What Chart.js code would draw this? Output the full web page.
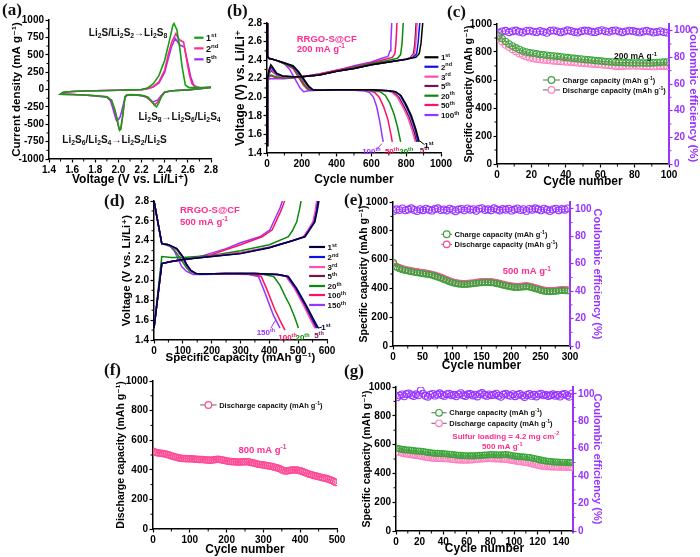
<!DOCTYPE html>
<html>
<head>
<meta charset="utf-8">
<title>RRGO-S@CF electrochemical performance</title>
<script src="https://cdn.jsdelivr.net/npm/chart.js@4.4.1/dist/chart.umd.min.js"></script>
<style>
  body { margin: 0; background: #fff; }
  #page { position: relative; width: 700px; height: 557px; overflow: hidden; background: #fff; }
  canvas { position: absolute; }
  .tag { position: absolute; font: bold 17px "Liberation Serif", "DejaVu Serif", serif; color: #111; }
</style>
</head>
<body>
<div id="page">
  <canvas id="ca"></canvas>
  <canvas id="cb"></canvas>
  <canvas id="cc"></canvas>
  <canvas id="cd"></canvas>
  <canvas id="ce"></canvas>
  <canvas id="cf"></canvas>
  <canvas id="cg"></canvas>
  <div class="tag" style="left:2px;top:0px">(a)</div>
  <div class="tag" style="left:227px;top:1px">(b)</div>
  <div class="tag" style="left:447px;top:2px">(c)</div>
  <div class="tag" style="left:104px;top:191px">(d)</div>
  <div class="tag" style="left:344px;top:190px">(e)</div>
  <div class="tag" style="left:104px;top:360px">(f)</div>
  <div class="tag" style="left:344px;top:361px">(g)</div>
</div>
<script>
const FONT = '"Liberation Sans", Arial, "DejaVu Sans", sans-serif';

// (a) cyclic voltammetry: voltage (V) and current density (mA/g), one loop per cycle
const cv1Volt = [2.80,2.70,2.60,2.50,2.45,2.40,2.37,2.35,2.33,2.31,2.28,2.25,2.20,2.15,2.10,2.07,2.056,2.036,2.02,2.01,2.00,1.985,1.97,1.94,1.90,1.80,1.70,1.60,1.50,
                 1.52,1.55,1.60,1.70,1.80,1.90,2.00,2.10,2.20,2.25,2.30,2.35,2.40,2.44,2.47,2.48,2.505,2.53,2.55,2.578,2.606,2.70,2.80];
const cv1Cur  = [30,10,-5,-15,-22,-40,-110,-190,-250,-225,-150,-105,-85,-78,-75,-80,-110,-390,-570,-585,-520,-400,-300,-155,-105,-90,-80,-72,-67,
                 -45,-35,-28,-22,-18,-14,-10,-6,0,20,80,200,420,700,920,950,860,600,330,65,30,25,30];
const cv2Volt = [2.80,2.70,2.60,2.50,2.45,2.40,2.37,2.34,2.317,2.29,2.26,2.22,2.15,2.10,2.07,2.056,2.036,2.02,2.01,2.00,1.985,1.97,1.94,1.90,1.80,1.70,1.60,1.50,
                 1.52,1.55,1.60,1.70,1.80,1.90,2.00,2.10,2.20,2.25,2.30,2.35,2.40,2.43,2.46,2.497,2.515,2.534,2.563,2.59,2.615,2.635,2.66,2.70,2.80];
const cv2Cur  = [30,10,-5,-15,-22,-38,-95,-180,-215,-185,-125,-92,-78,-74,-80,-110,-390,-570,-585,-530,-410,-300,-155,-105,-90,-80,-72,-67,
                 -45,-35,-28,-22,-18,-14,-10,-6,-2,12,40,110,280,500,680,805,740,708,684,420,200,86,40,25,30];
const cv5Volt = [2.80,2.70,2.60,2.50,2.45,2.40,2.37,2.34,2.30,2.27,2.24,2.20,2.15,2.10,2.075,2.06,2.045,2.03,2.015,2.00,1.985,1.97,1.95,1.93,1.90,1.80,1.70,1.60,1.50,
                 1.52,1.55,1.60,1.70,1.80,1.90,2.00,2.10,2.20,2.25,2.30,2.35,2.40,2.43,2.46,2.49,2.51,2.53,2.57,2.60,2.625,2.65,2.68,2.72,2.80];
const cv5Cur  = [30,10,-5,-15,-22,-36,-85,-150,-178,-150,-110,-90,-80,-75,-82,-110,-200,-300,-390,-435,-450,-380,-260,-160,-110,-92,-80,-72,-67,
                 -45,-35,-28,-22,-18,-14,-10,-6,-2,10,35,95,250,440,620,735,690,640,612,375,180,65,35,25,30];

// (b) charge/discharge profiles at 200 mA/g: [capacity, voltage]
const b1Dis = [[0,2.8],[3,2.44],[10,2.42],[50,2.40],[100,2.37],[150,2.34],[180,2.28],[210,2.20],[240,2.12],[265,2.08],[300,2.075],[400,2.08],[500,2.08],[600,2.08],[700,2.07],[740,2.06],[770,2.02],[800,1.92],[830,1.80],[855,1.66],[875,1.52]];
const b2Dis = [[0,2.8],[3,2.44],[10,2.42],[50,2.40],[100,2.37],[150,2.33],[180,2.27],[210,2.19],[240,2.11],[260,2.08],[300,2.075],[400,2.08],[500,2.08],[600,2.08],[700,2.07],[735,2.06],[765,2.02],[795,1.92],[825,1.80],[850,1.66],[868,1.52]];
const b3Dis = [[0,2.8],[3,2.44],[10,2.42],[50,2.40],[100,2.37],[150,2.33],[180,2.26],[210,2.18],[240,2.10],[258,2.08],[300,2.075],[400,2.08],[500,2.08],[600,2.075],[690,2.07],[720,2.05],[750,2.0],[780,1.90],[810,1.78],[835,1.64],[852,1.52]];
const b5Dis = [[0,2.8],[3,2.44],[10,2.42],[50,2.40],[100,2.37],[150,2.33],[180,2.26],[210,2.18],[240,2.10],[258,2.08],[300,2.075],[400,2.08],[500,2.08],[600,2.075],[700,2.07],[728,2.05],[758,2.0],[788,1.90],[818,1.78],[843,1.64],[860,1.52]];
const b20Dis = [[0,2.8],[3,2.44],[10,2.42],[50,2.40],[100,2.36],[150,2.32],[180,2.24],[210,2.15],[235,2.09],[250,2.075],[300,2.075],[400,2.08],[500,2.08],[600,2.07],[650,2.06],[680,2.02],[705,1.94],[730,1.82],[750,1.68],[768,1.52]];
const b50Dis = [[0,2.8],[3,2.44],[10,2.42],[50,2.40],[100,2.36],[150,2.31],[180,2.22],[210,2.13],[230,2.09],[245,2.075],[300,2.075],[400,2.08],[500,2.075],[590,2.07],[620,2.05],[645,2.0],[670,1.90],[695,1.76],[712,1.60],[720,1.52]];
const b100Dis = [[0,2.8],[3,2.44],[10,2.42],[50,2.40],[100,2.36],[130,2.30],[160,2.20],[190,2.10],[210,2.06],[240,2.07],[300,2.075],[400,2.08],[500,2.075],[560,2.07],[590,2.05],[612,2.0],[630,1.90],[648,1.74],[662,1.58],[668,1.52]];
const b1Chg = [[0,1.48],[3,2.2],[12,2.30],[22,2.35],[35,2.32],[55,2.26],[90,2.23],[150,2.22],[200,2.22],[300,2.24],[400,2.28],[500,2.31],[600,2.35],[700,2.38],[800,2.41],[855,2.43],[875,2.47],[885,2.58],[895,2.8]];
const b2Chg = [[0,1.48],[3,2.2],[12,2.28],[22,2.33],[35,2.30],[55,2.25],[90,2.23],[150,2.22],[200,2.22],[300,2.24],[400,2.28],[500,2.31],[600,2.35],[700,2.38],[800,2.41],[840,2.43],[860,2.47],[868,2.58],[878,2.8]];
const b3Chg = [[0,1.48],[3,2.2],[12,2.26],[22,2.31],[35,2.28],[55,2.24],[90,2.22],[150,2.22],[200,2.22],[300,2.24],[400,2.28],[500,2.31],[600,2.35],[700,2.38],[800,2.41],[830,2.43],[848,2.47],[855,2.58],[863,2.8]];
const b5Chg = [[0,1.48],[3,2.2],[12,2.25],[22,2.29],[35,2.27],[55,2.24],[90,2.22],[150,2.22],[200,2.22],[300,2.24],[400,2.28],[500,2.31],[600,2.35],[700,2.38],[800,2.41],[825,2.43],[842,2.47],[850,2.58],[857,2.8]];
const b20Chg = [[0,1.48],[3,2.2],[12,2.23],[25,2.24],[50,2.22],[90,2.21],[150,2.21],[200,2.22],[300,2.24],[400,2.28],[500,2.32],[600,2.36],[700,2.40],[750,2.42],[768,2.46],[776,2.58],[783,2.8]];
const b50Chg = [[0,1.48],[3,2.2],[12,2.22],[25,2.23],[50,2.21],[90,2.21],[150,2.21],[200,2.22],[300,2.25],[400,2.29],[500,2.33],[600,2.37],[680,2.41],[720,2.43],[735,2.47],[741,2.58],[747,2.8]];
const b100Chg = [[0,1.48],[3,2.18],[15,2.20],[50,2.20],[100,2.20],[150,2.21],[200,2.22],[300,2.25],[400,2.29],[500,2.34],[600,2.38],[660,2.42],[695,2.44],[707,2.5],[712,2.6],[717,2.8]];

// (d) charge/discharge profiles at 500 mA/g: [capacity, voltage]
const d1Dis = [[0,2.8],[27,2.37],[50,2.36],[79,2.32],[100,2.24],[113,2.16],[128,2.10],[145,2.07],[165,2.065],[250,2.07],[350,2.07],[430,2.06],[466,2.04],[495,1.92],[530,1.74],[555,1.60],[570,1.52]];
const d2Dis = [[0,2.8],[27,2.37],[50,2.36],[79,2.32],[100,2.24],[113,2.16],[128,2.10],[145,2.07],[165,2.065],[250,2.07],[350,2.07],[430,2.06],[463,2.04],[492,1.92],[527,1.74],[551,1.60],[566,1.52]];
const d3Dis = [[0,2.8],[27,2.37],[50,2.36],[79,2.31],[100,2.23],[113,2.15],[128,2.09],[145,2.07],[165,2.065],[250,2.07],[350,2.07],[425,2.06],[458,2.04],[487,1.92],[520,1.74],[544,1.60],[558,1.52]];
const d5Dis = [[0,2.8],[27,2.37],[50,2.36],[80,2.31],[101,2.23],[114,2.15],[129,2.09],[146,2.07],[165,2.065],[250,2.07],[350,2.07],[427,2.06],[460,2.04],[489,1.92],[523,1.74],[547,1.60],[561,1.52]];
const d20Dis = [[0,2.8],[27,2.37],[61,2.34],[80,2.27],[96,2.20],[112,2.13],[125,2.09],[148,2.07],[200,2.065],[300,2.07],[380,2.06],[415,2.04],[437,1.95],[455,1.84],[471,1.75],[488,1.63],[501,1.52]];
const d100Dis = [[0,2.8],[27,2.37],[50,2.36],[79,2.31],[100,2.22],[113,2.14],[128,2.09],[145,2.07],[165,2.065],[250,2.07],[340,2.06],[372,2.04],[390,1.92],[420,1.70],[440,1.58],[454,1.50]];
const d150Dis = [[0,2.8],[27,2.37],[50,2.36],[70,2.30],[96,2.14],[113,2.09],[136,2.06],[170,2.06],[250,2.065],[330,2.06],[362,2.04],[379,1.92],[414,1.65],[437,1.52]];
const d1Chg = [[0,1.52],[27,2.17],[60,2.19],[100,2.21],[200,2.24],[300,2.27],[400,2.33],[480,2.40],[524,2.44],[540,2.51],[558,2.59],[566,2.7],[572,2.8]];
const d2Chg = [[0,1.52],[27,2.17],[60,2.19],[100,2.21],[200,2.24],[300,2.27],[400,2.33],[480,2.40],[522,2.44],[538,2.51],[556,2.59],[564,2.7],[569,2.8]];
const d3Chg = [[0,1.52],[27,2.17],[60,2.19],[100,2.21],[200,2.245],[300,2.28],[400,2.335],[480,2.40],[518,2.44],[534,2.51],[551,2.59],[559,2.7],[564,2.8]];
const d5Chg = [[0,1.52],[27,2.17],[60,2.19],[100,2.21],[200,2.245],[300,2.28],[400,2.335],[480,2.40],[520,2.44],[536,2.51],[553,2.59],[561,2.7],[566,2.8]];
const d20Chg = [[0,1.52],[27,2.24],[60,2.23],[100,2.23],[200,2.25],[300,2.30],[400,2.36],[466,2.44],[480,2.50],[495,2.59],[505,2.72],[510,2.8]];
const d100Chg = [[0,1.52],[27,2.17],[60,2.19],[100,2.21],[200,2.26],[300,2.36],[375,2.44],[410,2.51],[440,2.70],[453,2.8]];
const d150Chg = [[0,1.52],[27,2.17],[60,2.19],[100,2.20],[170,2.25],[250,2.32],[300,2.38],[367,2.44],[402,2.51],[437,2.73],[445,2.8]];

// (c) cycling at 200 mA/g, every 2nd cycle from cycle 1
const cCharge = [915,895,875,858,843,830,818,808,800,795,791,787,783,780,777,774,772,769,766,763,760,757,755,752,750,747,745,742,740,737,735,733,731,729,727,726,725,724,723,722,722,723,722,721,722,724,725,727,728,728];
const cDischarge = [900,875,852,835,820,805,790,778,768,760,755,750,747,744,742,740,738,736,734,732,730,728,726,724,722,720,718,716,714,712,710,708,706,703,700,699,700,701,702,703,702,701,700,699,698,697,698,699,700,700];
const cCE = [98.5,99.4,99.9,98.8,99.6,100.1,99.2,98.6,99.8,100.0,99.3,98.9,99.7,99.1,98.4,99.9,100.2,99.5,98.8,99.4,100.3,99.8,99.0,98.6,99.6,100.1,99.9,99.2,98.9,99.7,100.4,99.6,99.1,99.9,100.2,99.4,98.8,99.5,100.0,99.7,99.2,98.7,99.4,99.9,99.3,98.6,99.0,99.6,98.9,98.5];

// (e) cycling at 500 mA/g, every 5th cycle from cycle 1
const eCharge = [580,548,537,530,524,520,516,512,509,505,502,499,496,491,485,478,471,462,454,446,439,434,430,428,427,428,430,432,435,438,440,441,441,440,437,433,428,423,418,414,410,407,406,408,410,412,409,404,398,392,386,381,378,377,378,380,383,385,384,383];
const eDischarge = [570,552,543,536,530,526,522,518,515,511,508,505,502,497,491,484,477,468,460,452,445,440,436,434,433,434,436,438,441,444,446,447,447,446,443,439,434,429,424,420,416,413,412,414,416,418,415,410,404,398,392,387,384,383,384,386,389,391,390,389];
const eCE = [98.5,99.7,99.1,100.3,98.9,99.5,100.4,99.2,98.4,99.8,99.0,100.1,99.4,98.7,99.9,100.4,99.1,99.6,98.8,100.2,99.3,98.3,99.5,100.0,98.9,100.3,99.4,99.8,98.6,100.1,100.5,99.2,99.7,99.0,100.4,99.6,98.8,99.9,99.3,100.2,98.7,99.5,100.3,99.1,99.8,98.5,100.0,99.4,100.4,99.7,98.9,100.1,99.3,98.4,99.6,100.2,99.0,99.9,99.4,100.3];

// (f) discharge capacity at 800 mA/g, every 5th cycle from cycle 1
const fDischarge = [525,518,515,513,512,510,508,505,502,498,494,490,486,483,480,478,477,476,475,475,474,474,473,472,471,470,469,469,468,467,466,465,466,468,470,471,470,468,465,462,460,458,456,455,454,453,452,452,453,454,455,455,453,450,447,444,441,438,436,434,432,430,428,426,424,421,418,414,410,405,399,394,392,393,396,398,399,399,398,396,393,389,384,379,374,370,366,362,359,356,353,350,347,344,341,337,333,328,322,315];

// (g) high loading (4.2 mg/cm2) at 500 mA/g, every 2nd cycle from cycle 1
const gCharge = [575,570,567,565,563,562,560,558,556,555,554,552,549,546,543,541,540,539,538,537,536,535,533,531,529,527,526,525,524,523,523,522,522,523,524,525,526,527,528,530,531,530,529,528,529,530,531,529,526,523,520,518,516,515,514,512,510,507,503,500,496,492,489,486,484,482,480,479,478,477,477,476,476,475,475];
const gDischarge = [555,548,543,540,537,535,532,530,527,525,522,519,516,513,510,508,507,506,506,505,505,504,503,501,499,497,496,495,494,494,495,496,497,499,501,502,503,504,505,506,505,504,503,503,502,501,500,498,495,492,489,486,484,482,480,477,474,470,466,462,458,455,452,450,449,448,447,447,446,446,446,445,445,444,444];
const gCE = [97.5,98.8,99.6,98.2,99.9,100.3,99.1,98.4,99.7,98.9,102.5,100.2,98.6,97.9,99.4,100.0,98.7,99.5,100.4,99.2,98.5,99.8,100.1,98.9,99.3,98.2,99.6,100.5,99.0,98.4,99.7,100.0,98.8,99.4,98.1,99.9,100.6,99.2,98.5,99.6,98.9,99.3,100.1,98.7,97.8,99.5,100.2,99.1,98.6,99.8,98.3,99.4,100.0,98.8,97.7,99.2,99.9,98.5,99.3,98.1,99.6,100.1,98.9,99.4,98.4,99.0,99.7,98.6,99.2,98.0,99.5,100.0,98.8,97.9,100.2];

const cycles = (arr, first, every) => arr.map((_, i) => first + every * i);

const GREEN = '#3aa63a', PINK_L = '#ff80c0', PINK = '#ff4a96', VIOLET = '#9933ff', HOT = '#ff2d8f';
const bCols = { c1: '#000000', c2: '#1010e0', c3: '#ff4fa8', c5: '#7a1048', c20: '#0a8a0a', c50: '#ff1060', c100: '#9933ff' };

// text with ^{sup} and _{sub} parts, y is the vertical middle
function rich(ctx, str, x, y, size, color, align) {
  const segs = [];
  const re = /([\^_])\{([^}]*)\}|([^\^_]+)/g;
  let m;
  while ((m = re.exec(str)) !== null) {
    if (m[3] !== undefined) segs.push({ s: m[3], k: 0 });
    else segs.push({ s: m[2], k: m[1] === '^' ? 1 : -1 });
  }
  const fontOf = k => 'bold ' + (k ? size * 0.68 : size) + 'px ' + FONT;
  let total = 0;
  segs.forEach(g => { ctx.font = fontOf(g.k); g.w = ctx.measureText(g.s).width; total += g.w; });
  let cx = align === 'center' ? x - total / 2 : align === 'right' ? x - total : x;
  ctx.save();
  ctx.fillStyle = color; ctx.textAlign = 'left'; ctx.textBaseline = 'alphabetic';
  const base = y + size * 0.36;
  segs.forEach(g => {
    ctx.font = fontOf(g.k);
    const dy = g.k === 1 ? -size * 0.4 : g.k === -1 ? size * 0.22 : 0;
    ctx.fillText(g.s, cx, base + dy);
    cx += g.w;
  });
  ctx.restore();
}

function minorTicks(ctx, s) {
  if (!s || s.ticks.length < 2) return;
  const t = s.ticks;
  const step = t[1].value - t[0].value;
  ctx.save();
  ctx.strokeStyle = s.options.border.color; ctx.lineWidth = 1;
  ctx.beginPath();
  for (let v = t[0].value - step / 2; v <= s.max + 1e-6; v += step) {
    if (v < s.min - 1e-6) continue;
    const p = s.getPixelForValue(v);
    if (s.isHorizontal()) { ctx.moveTo(p, s.top); ctx.lineTo(p, s.top + 2.5); }
    else if (s.position === 'left') { ctx.moveTo(s.right, p); ctx.lineTo(s.right - 2.5, p); }
    else { ctx.moveTo(s.left, p); ctx.lineTo(s.left + 2.5, p); }
  }
  ctx.stroke();
  ctx.restore();
}

const decoPlugin = {
  id: 'deco',
  afterDraw(chart, args, o) {
    const ctx = chart.ctx, sx = chart.scales.x, sy = chart.scales.y;
    const X = v => sx.getPixelForValue(v), Y = v => sy.getPixelForValue(v);
    (o.minor || []).forEach(id => minorTicks(ctx, chart.scales[id]));
    (o.arrows || []).forEach(a => {
      ctx.save(); ctx.strokeStyle = a.c; ctx.lineWidth = 1;
      ctx.beginPath(); ctx.moveTo(X(a.x1), Y(a.y1)); ctx.lineTo(X(a.x2), Y(a.y2)); ctx.stroke();
      ctx.restore();
    });
    (o.keys || []).forEach(k => {
      const y = Y(k.y), x1 = X(k.x1), x2 = X(k.x2);
      ctx.save();
      if (k.mark) {
        ctx.strokeStyle = '#666'; ctx.lineWidth = 1;
        ctx.beginPath(); ctx.moveTo(x1, y); ctx.lineTo(x2, y); ctx.stroke();
        ctx.strokeStyle = k.c; ctx.lineWidth = 1.2; ctx.fillStyle = '#fff';
        ctx.beginPath(); ctx.arc((x1 + x2) / 2, y, 3.3, 0, Math.PI * 2); ctx.fill(); ctx.stroke();
      } else {
        ctx.strokeStyle = k.c; ctx.lineWidth = 2.2;
        ctx.beginPath(); ctx.moveTo(x1, y); ctx.lineTo(x2, y); ctx.stroke();
      }
      ctx.restore();
      rich(ctx, k.t, x2 + 2.5, y, k.s || 8, k.tc || '#111', 'left');
    });
    (o.texts || []).forEach(t => rich(ctx, t.t, X(t.x), Y(t.y), t.s || 9, t.c || '#111', t.a || 'left'));
  }
};
Chart.register(decoPlugin);

function lin(o) {
  const col = o.color || '#000';
  return {
    type: 'linear', position: o.pos || 'left', min: o.min, max: o.max,
    border: { display: true, color: col, width: o.bw || 1.5 },
    grid: { drawOnChartArea: false, drawTicks: true, tickLength: 3.5, tickColor: col, tickWidth: 1.2 },
    ticks: {
      stepSize: o.step, color: col, padding: 1.5, autoSkip: false, maxRotation: 0, includeBounds: false,
      font: { family: FONT, size: 10, weight: 'bold' },
      callback: o.dec != null ? v => Number(v).toFixed(o.dec) : v => String(v)
    },
    title: { display: !!o.title, text: o.title, color: col, padding: 0, font: { family: FONT, size: o.ts || 12, weight: 'bold' } },
    afterFit: s => { if (o.size != null) { if (s.isHorizontal()) s.height = o.size; else s.width = o.size; } }
  };
}

function base(pad, scales, deco) {
  return {
    responsive: false, animation: false, events: [],
    layout: { padding: Object.assign({ left: 0, right: 0, top: 0, bottom: 0 }, pad) },
    plugins: { legend: { display: false }, tooltip: { enabled: false }, deco: deco },
    scales: scales
  };
}

function curve(xs, ys, c) {
  return { data: xs.map((x, i) => ({ x: x, y: ys[i] })), showLine: true, borderColor: c, borderWidth: 1.6, pointRadius: 0 };
}
function profile(pairs, c) {
  return { data: pairs.map(p => ({ x: p[0], y: p[1] })), showLine: true, borderColor: c, borderWidth: 1.5, pointRadius: 0 };
}
function rings(xs, ys, c, r, axis) {
  return {
    data: xs.map((x, i) => ({ x: x, y: ys[i] })), showLine: true, borderColor: c, borderWidth: 0.8,
    pointRadius: r, pointBorderColor: c, pointBackgroundColor: 'rgba(255,255,255,0)', pointBorderWidth: 1.1,
    yAxisID: axis || 'y'
  };
}

function panel(id, box, cfg) {
  const el = document.getElementById(id);
  el.width = box[2]; el.height = box[3];
  el.style.left = box[0] + 'px'; el.style.top = box[1] + 'px';
  el.style.width = box[2] + 'px'; el.style.height = box[3] + 'px';
  return new Chart(el, cfg);
}

// (a)
panel('ca', [10, 8, 215, 179], {
  type: 'scatter',
  data: { datasets: [curve(cv1Volt, cv1Cur, '#12a012'), curve(cv2Volt, cv2Cur, '#ff2a80'), curve(cv5Volt, cv5Cur, '#9a30ff')] },
  options: base({ top: 12, right: 14 }, {
    x: lin({ pos: 'bottom', min: 1.4, max: 2.8, step: 0.2, dec: 1, size: 28, title: 'Voltage (V vs. Li/Li\u207A)' }),
    y: lin({ min: -1000, max: 1000, step: 250, size: 39, ts: 11.5, title: 'Current density (mA g\u207B\u00B9)' })
  }, {
    minor: ['x', 'y'],
    keys: [
      { x1: 2.655, x2: 2.735, y: 745, c: '#12a012', t: '1^{st}', s: 9 },
      { x1: 2.655, x2: 2.735, y: 592, c: '#ff2a80', t: '2^{nd}', s: 9 },
      { x1: 2.655, x2: 2.735, y: 434, c: '#9a30ff', t: '5^{th}', s: 9 }
    ],
    texts: [
      { t: 'Li_{2}S/Li_{2}S_{2}\u2192Li_{2}S_{8}', x: 2.083, y: 827, s: 10, a: 'center' },
      { t: 'Li_{2}S_{8}\u2192Li_{2}S_{6}/Li_{2}S_{4}', x: 2.528, y: -391, s: 10, a: 'center' },
      { t: 'Li_{2}S_{6}/Li_{2}S_{4}\u2192Li_{2}S_{2}/Li_{2}S', x: 1.966, y: -712, s: 10, a: 'center' }
    ]
  })
});

// (b)
panel('cb', [233, 11, 232, 176], {
  type: 'scatter',
  data: { datasets: [
    profile(b1Dis, bCols.c1), profile(b1Chg, bCols.c1), profile(b2Dis, bCols.c2), profile(b2Chg, bCols.c2),
    profile(b3Dis, bCols.c3), profile(b3Chg, bCols.c3), profile(b5Dis, bCols.c5), profile(b5Chg, bCols.c5),
    profile(b20Dis, bCols.c20), profile(b20Chg, bCols.c20), profile(b50Dis, bCols.c50), profile(b50Chg, bCols.c50),
    profile(b100Dis, bCols.c100), profile(b100Chg, bCols.c100)
  ] },
  options: base({ top: 12, right: 24 }, {
    x: lin({ pos: 'bottom', min: 0, max: 1000, step: 200, size: 34, title: 'Cycle number' }),
    y: lin({ min: 1.4, max: 2.8, step: 0.2, dec: 1, size: 34, title: 'Voltage (V) vs. Li/Li\u207A' })
  }, {
    minor: ['x', 'y'],
    keys: [
      { x1: 905, x2: 985, y: 2.431, c: bCols.c1, t: '1^{st}' },
      { x1: 905, x2: 985, y: 2.329, c: bCols.c2, t: '2^{nd}' },
      { x1: 905, x2: 985, y: 2.222, c: bCols.c3, t: '3^{rd}' },
      { x1: 905, x2: 985, y: 2.122, c: bCols.c5, t: '5^{th}' },
      { x1: 905, x2: 985, y: 2.017, c: bCols.c20, t: '20^{th}' },
      { x1: 905, x2: 985, y: 1.917, c: bCols.c50, t: '50^{th}' },
      { x1: 905, x2: 985, y: 1.809, c: bCols.c100, t: '100^{th}' }
    ],
    arrows: [
      { x1: 630, y1: 1.44, x2: 660, y2: 1.5, c: bCols.c100 },
      { x1: 905, y1: 1.49, x2: 878, y2: 1.53, c: bCols.c1 }
    ],
    texts: [
      { t: 'RRGO-S@CF', x: 171, y: 2.635, s: 9.5, c: HOT },
      { t: '200 mA g^{-1}', x: 171, y: 2.528, s: 9.5, c: HOT },
      { t: '100^{th}', x: 600, y: 1.42, s: 8, c: bCols.c100, a: 'center' },
      { t: '50^{th}', x: 718, y: 1.42, s: 8, c: bCols.c50, a: 'center' },
      { t: '20^{th}', x: 800, y: 1.42, s: 8, c: bCols.c20, a: 'center' },
      { t: '5^{th}', x: 905, y: 1.43, s: 8, c: bCols.c5, a: 'center' },
      { t: '1^{st}', x: 930, y: 1.48, s: 8, c: bCols.c1, a: 'center' }
    ]
  })
});

// (c)
const cCyc = cycles(cCharge, 1, 2);
panel('cc', [463, 12, 237, 177], {
  type: 'scatter',
  data: { datasets: [
    rings(cCyc, cCharge, GREEN, 3.2), rings(cCyc, cDischarge, PINK_L, 3.4), rings(cCyc, cCE, VIOLET, 3.4, 'y1')
  ] },
  options: base({ top: 12 }, {
    x: lin({ pos: 'bottom', min: 0, max: 100, step: 20, size: 25, title: 'Cycle number' }),
    y: lin({ min: 0, max: 1000, step: 200, size: 34, ts: 10.5, title: 'Specific capacity (mAh g\u207B\u00B9)' }),
    y1: lin({ pos: 'right', min: 0, max: 105, step: 20, size: 31, ts: 11.5, title: 'Coulombic efficiency (%)', color: VIOLET, bw: 2 })
  }, {
    minor: ['x', 'y', 'y1'],
    keys: [
      { mark: true, x1: 26.7, x2: 36.6, y: 600, c: GREEN, t: 'Charge capacity (mAh g^{-1})', s: 7.5 },
      { mark: true, x1: 26.7, x2: 36.6, y: 529, c: PINK_L, t: 'Discharge capacity (mAh g^{-1})', s: 7.5 }
    ],
    texts: [{ t: '200 mA g^{-1}', x: 68, y: 771, s: 8.5 }]
  })
});

// (d)
panel('cd', [120, 191, 233, 174], {
  type: 'scatter',
  data: { datasets: [
    profile(d1Dis, '#000040'), profile(d1Chg, '#000040'), profile(d2Dis, bCols.c2), profile(d2Chg, bCols.c2),
    profile(d3Dis, bCols.c3), profile(d3Chg, bCols.c3), profile(d5Dis, bCols.c5), profile(d5Chg, bCols.c5),
    profile(d20Dis, bCols.c20), profile(d20Chg, bCols.c20), profile(d100Dis, bCols.c50), profile(d100Chg, bCols.c50),
    profile(d150Dis, bCols.c100), profile(d150Chg, bCols.c100)
  ] },
  options: base({ top: 10, right: 26 }, {
    x: lin({ pos: 'bottom', min: 0, max: 600, step: 100, size: 25, ts: 11.5, title: 'Specific capacity (mAh g\u207B\u00B9)' }),
    y: lin({ min: 1.4, max: 2.8, step: 0.2, dec: 1, size: 34, ts: 11.5, title: 'Voltage (V vs. Li/Li\u207A)' })
  }, {
    minor: ['x', 'y'],
    keys: [
      { x1: 538, x2: 593, y: 2.337, c: '#000040', t: '1^{st}' },
      { x1: 538, x2: 593, y: 2.236, c: bCols.c2, t: '2^{nd}' },
      { x1: 538, x2: 593, y: 2.135, c: bCols.c3, t: '3^{rd}' },
      { x1: 538, x2: 593, y: 2.045, c: bCols.c5, t: '5^{th}' },
      { x1: 538, x2: 593, y: 1.944, c: bCols.c20, t: '20^{th}' },
      { x1: 538, x2: 593, y: 1.853, c: bCols.c50, t: '100^{th}' },
      { x1: 538, x2: 593, y: 1.753, c: bCols.c100, t: '150^{th}' }
    ],
    arrows: [
      { x1: 405, y1: 1.52, x2: 422, y2: 1.6, c: bCols.c100 },
      { x1: 582, y1: 1.53, x2: 570, y2: 1.52, c: '#000040' }
    ],
    texts: [
      { t: 'RRGO-S@CF', x: 90, y: 2.709, s: 9.5, c: HOT },
      { t: '500 mA g^{-1}', x: 90, y: 2.592, s: 9.5, c: HOT },
      { t: '150^{th}', x: 388, y: 1.48, s: 8, c: bCols.c100, a: 'center' },
      { t: '100^{th}', x: 463, y: 1.43, s: 8, c: bCols.c50, a: 'center' },
      { t: '20^{th}', x: 515, y: 1.43, s: 8, c: bCols.c20, a: 'center' },
      { t: '5^{th}', x: 572, y: 1.45, s: 8, c: bCols.c5, a: 'center' },
      { t: '1^{st}', x: 596, y: 1.53, s: 8, c: '#000040', a: 'center' }
    ]
  })
});

// (e)
const eCyc = cycles(eCharge, 1, 5);
panel('ce', [358, 192, 246, 181], {
  type: 'scatter',
  data: { datasets: [
    rings(eCyc, eCharge, GREEN, 3), rings(eCyc, eDischarge, PINK, 3.2), rings(eCyc, eCE, VIOLET, 3.4, 'y1')
  ] },
  options: base({ top: 10 }, {
    x: lin({ pos: 'bottom', min: 0, max: 300, step: 50, size: 27, title: 'Cycle number' }),
    y: lin({ min: 0, max: 1000, step: 200, size: 35, ts: 10.5, title: 'Specific capacity (mAh g\u207B\u00B9)' }),
    y1: lin({ pos: 'right', min: 0, max: 105, step: 20, size: 34, ts: 11, title: 'Coulombic efficiency (%)', color: VIOLET, bw: 2 })
  }, {
    minor: ['x', 'y', 'y1'],
    keys: [
      { mark: true, x1: 82, x2: 100, y: 776, c: GREEN, t: 'Charge capacity (mAh g^{-1})', s: 7.5 },
      { mark: true, x1: 82, x2: 100, y: 706, c: PINK, t: 'Discharge capacity (mAh g^{-1})', s: 7.5 }
    ],
    texts: [{ t: '500 mA g^{-1}', x: 186, y: 521, s: 9.5, c: HOT }]
  })
});

// (f)
const fCyc = cycles(fDischarge, 1, 5);
panel('cf', [115, 371, 236, 186], {
  type: 'scatter',
  data: { datasets: [rings(fCyc, fDischarge, PINK, 3.2)] },
  options: base({ top: 10, right: 14 }, {
    x: lin({ pos: 'bottom', min: 0, max: 500, step: 100, size: 28, title: 'Cycle number' }),
    y: lin({ min: 0, max: 1000, step: 200, size: 38, ts: 10.5, title: 'Discharge capacity (mAh g\u207B\u00B9)' })
  }, {
    minor: ['x', 'y'],
    keys: [{ mark: true, x1: 128, x2: 173, y: 838, c: PINK, t: 'Discharge capacity (mAh g^{-1})', s: 7.5 }],
    texts: [{ t: '800 mA g^{-1}', x: 232, y: 540, s: 9.5, c: HOT }]
  })
});

// (g)
const gCyc = cycles(gCharge, 1, 2);
panel('cg', [361, 377, 243, 179], {
  type: 'scatter',
  data: { datasets: [
    rings(gCyc, gCharge, GREEN, 3), rings(gCyc, gDischarge, PINK_L, 3.4), rings(gCyc, gCE, VIOLET, 3.4, 'y1')
  ] },
  options: base({ top: 10 }, {
    x: lin({ pos: 'bottom', min: 0, max: 150, step: 20, size: 25, title: 'Cycle number' }),
    y: lin({ min: 0, max: 1000, step: 200, size: 35, ts: 10.5, title: 'Specific capacity (mAh g\u207B\u00B9)' }),
    y1: lin({ pos: 'right', min: 0, max: 105, step: 20, size: 31, ts: 11, title: 'Coulombic efficiency (%)', color: VIOLET, bw: 2 })
  }, {
    minor: ['x', 'y', 'y1'],
    keys: [
      { mark: true, x1: 30, x2: 43, y: 821, c: GREEN, t: 'Charge capacity (mAh g^{-1})', s: 7.5 },
      { mark: true, x1: 30, x2: 43, y: 748, c: PINK_L, t: 'Discharge capacity (mAh g^{-1})', s: 7.5 }
    ],
    texts: [
      { t: 'Sulfur loading = 4.2 mg cm^{-2}', x: 93, y: 662, s: 8, c: HOT, a: 'center' },
      { t: '500 mA g^{-1}', x: 90, y: 590, s: 8, c: HOT, a: 'center' }
    ]
  })
});
</script>
</body>
</html>
